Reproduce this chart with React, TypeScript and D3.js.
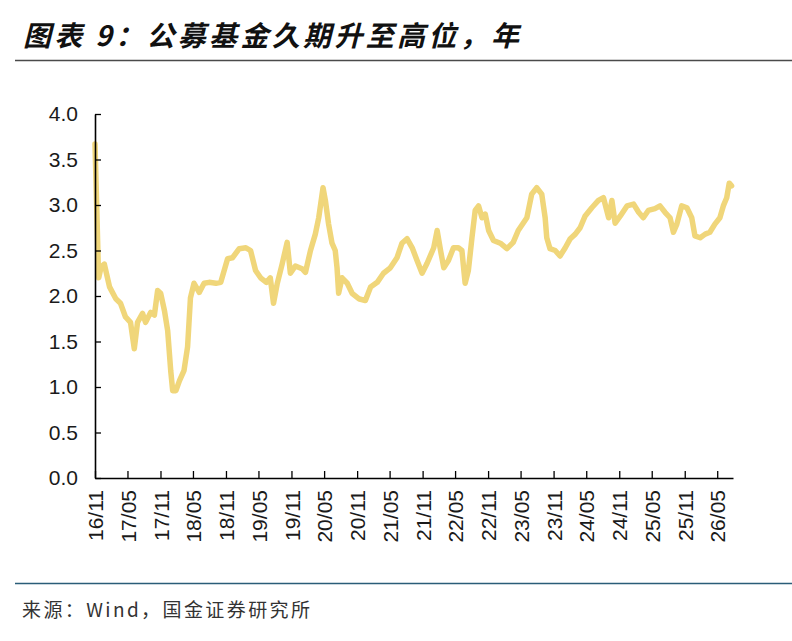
import React, { useEffect, useRef } from 'react';
import * as d3 from 'd3';

// weekly-ish readings of fund duration (years)
const dates = [
  '2016-11-01', '2016-11-11', '2016-11-19', '2016-11-22', '2016-12-05', '2016-12-23',
  '2017-01-21', '2017-02-25', '2017-03-23', '2017-04-20', '2017-05-18', '2017-06-08',
  '2017-06-26', '2017-07-24', '2017-08-10', '2017-09-07', '2017-09-28', '2017-10-16',
  '2017-11-02', '2017-11-23', '2017-12-11', '2017-12-28', '2018-01-08', '2018-01-26',
  '2018-02-15', '2018-03-12', '2018-04-01', '2018-04-17', '2018-05-07', '2018-06-05',
  '2018-07-02', '2018-07-30', '2018-09-06', '2018-10-03', '2018-11-10', '2018-12-07',
  '2019-01-14', '2019-02-20', '2019-03-18', '2019-04-15', '2019-05-13', '2019-06-14',
  '2019-07-06', '2019-07-24', '2019-08-13', '2019-09-10', '2019-10-08', '2019-10-26',
  '2019-11-23', '2019-12-30', '2020-01-18', '2020-02-15', '2020-03-13', '2020-04-01',
  '2020-04-25', '2020-05-08', '2020-05-26', '2020-06-14', '2020-07-02', '2020-07-12',
  '2020-07-21', '2020-08-09', '2020-09-07', '2020-10-04', '2020-11-10', '2020-12-17',
  '2021-01-15', '2021-02-21', '2021-03-28', '2021-05-05', '2021-06-11', '2021-07-09',
  '2021-08-06', '2021-09-04', '2021-10-01', '2021-10-29', '2021-11-26', '2022-01-02',
  '2022-01-21', '2022-02-09', '2022-02-27', '2022-03-25', '2022-04-22', '2022-05-19',
  '2022-06-08', '2022-06-26', '2022-07-14', '2022-08-03', '2022-08-21', '2022-09-09',
  '2022-09-28', '2022-10-16', '2022-11-04', '2022-12-01', '2023-01-08', '2023-02-14',
  '2023-03-21', '2023-04-18', '2023-06-05', '2023-07-02', '2023-07-30', '2023-08-27',
  '2023-09-15', '2023-09-24', '2023-10-12', '2023-11-10', '2023-12-07', '2024-01-05',
  '2024-02-02', '2024-03-01', '2024-03-28', '2024-04-25', '2024-06-01', '2024-07-08',
  '2024-08-05', '2024-09-03', '2024-09-21', '2024-10-09', '2024-11-07', '2024-12-14',
  '2025-01-20', '2025-02-17', '2025-03-15', '2025-04-12', '2025-05-19', '2025-06-16',
  '2025-07-14', '2025-08-11', '2025-08-30', '2025-09-18', '2025-10-15', '2025-11-13',
  '2025-12-10', '2025-12-28', '2026-01-26', '2026-02-23', '2026-03-21', '2026-04-18',
  '2026-05-16', '2026-06-04', '2026-06-23', '2026-07-07', '2026-07-20'
];

const duration = [
  3.67, 2.95, 2.35, 2.2, 2.32, 2.35,
  2.1, 1.97, 1.92, 1.77, 1.71, 1.42,
  1.71, 1.81, 1.71, 1.82, 1.79, 2.06,
  2.03, 1.84, 1.62, 1.18, 0.96, 0.96,
  1.07, 1.18, 1.44, 1.98, 2.14, 2.04,
  2.14, 2.15, 2.14, 2.15, 2.41, 2.42,
  2.52, 2.53, 2.5, 2.28, 2.2, 2.15,
  2.2, 1.92, 2.13, 2.35, 2.59, 2.25,
  2.33, 2.3, 2.26, 2.5, 2.68, 2.86,
  3.19, 3.05, 2.79, 2.58, 2.5, 2.31,
  2.03, 2.2, 2.14, 2.03, 1.97, 1.95,
  2.1, 2.15, 2.25, 2.31, 2.42, 2.58,
  2.63, 2.53, 2.39, 2.25, 2.36, 2.53,
  2.72, 2.5, 2.31, 2.39, 2.53, 2.53,
  2.5, 2.14, 2.28, 2.64, 2.94, 2.99,
  2.86, 2.9, 2.72, 2.61, 2.58, 2.52,
  2.59, 2.72, 2.86, 3.12, 3.19, 3.12,
  2.86, 2.64, 2.52, 2.5, 2.44, 2.53,
  2.63, 2.68, 2.75, 2.88, 2.97, 3.05,
  3.08, 2.86, 3.05, 2.8, 2.88, 2.99,
  3.01, 2.92, 2.86, 2.94, 2.96, 2.99,
  2.92, 2.86, 2.7, 2.79, 2.99, 2.97,
  2.86, 2.66, 2.64, 2.68, 2.7, 2.79,
  2.86, 2.99, 3.08, 3.24, 3.21
];

const xTickLabels = [
  '16/11', '17/05', '17/11', '18/05', '18/11', '19/05', '19/11', '20/05', '20/11', '21/05',
  '21/11', '22/05', '22/11', '23/05', '23/11', '24/05', '24/11', '25/05', '25/11', '26/05'
];
const yTicks = [0, 0.5, 1, 1.5, 2, 2.5, 3, 3.5, 4];

const title = '图表 9：公募基金久期升至高位，年';
const source = '来源：Wind，国金证券研究所';

const width = 792;
const height = 641;

const App: React.FC = () => {
  const svgRef = useRef<SVGSVGElement>(null);

  useEffect(() => {
    if (!svgRef.current) return;
    const svg = d3.select(svgRef.current);
    svg.selectAll('*').remove();

    const margin = { top: 114, right: 59, bottom: 163, left: 95 };
    const innerWidth = width - margin.left - margin.right;
    const innerHeight = height - margin.top - margin.bottom;

    const parseDay = d3.timeParse('%Y-%m-%d');
    const parseTick = d3.timeParse('%y/%m');
    const points = dates.map((d, i) => ({ date: parseDay(d) as Date, value: duration[i] }));
    const tickDates = xTickLabels.map(t => parseTick(t) as Date);

    const xScale = d3.scaleTime()
      .domain([tickDates[0], parseDay('2026-07-28') as Date])
      .range([0, innerWidth]);

    const yScale = d3.scaleLinear()
      .domain([0, 4])
      .range([innerHeight, 0]);

    // title and rules
    svg.append('text')
      .attr('x', 23)
      .attr('y', 46)
      .attr('font-family', '"Noto Sans CJK SC"')
      .attr('font-size', 28)
      .attr('font-weight', 'bold')
      .attr('font-style', 'italic')
      .attr('fill', '#111')
      .attr('textLength', 496)
      .attr('lengthAdjust', 'spacing')
      .text(title);

    svg.append('line')
      .attr('x1', 15).attr('x2', width)
      .attr('y1', 60.5).attr('y2', 60.5)
      .attr('stroke', '#4a4a4a')
      .attr('stroke-width', 1.3);

    svg.append('line')
      .attr('x1', 15).attr('x2', width)
      .attr('y1', 583.5).attr('y2', 583.5)
      .attr('stroke', '#2a5d78')
      .attr('stroke-width', 1.3);

    svg.append('text')
      .attr('x', 22)
      .attr('y', 617)
      .attr('font-family', '"Noto Sans CJK SC"')
      .attr('font-size', 19)
      .attr('fill', '#333')
      .attr('textLength', 288)
      .attr('lengthAdjust', 'spacing')
      .text(source);

    const g = svg.append('g')
      .attr('transform', `translate(${margin.left},${margin.top})`);

    // series
    const line = d3.line<{ date: Date; value: number }>()
      .x(d => xScale(d.date))
      .y(d => yScale(d.value));

    g.append('path')
      .datum(points)
      .attr('fill', 'none')
      .attr('stroke', '#F0D67A')
      .attr('stroke-width', 5.5)
      .attr('stroke-linejoin', 'round')
      .attr('stroke-linecap', 'round')
      .attr('d', line);

    // axes
    const yAxis = g.append('g')
      .call(d3.axisLeft(yScale)
        .tickValues(yTicks)
        .tickFormat(d3.format('.1f'))
        .tickSizeInner(-6)
        .tickSizeOuter(0)
        .tickPadding(17)
      );

    const xAxis = g.append('g')
      .attr('transform', `translate(0,${innerHeight})`)
      .call(d3.axisBottom(xScale)
        .tickValues(tickDates)
        .tickFormat((d, i) => xTickLabels[i])
        .tickSizeInner(-7)
        .tickSizeOuter(0)
      );

    xAxis.selectAll('.tick text')
      .attr('transform', 'rotate(-90)')
      .attr('text-anchor', 'end')
      .attr('x', -12)
      .attr('y', 0)
      .attr('dy', '0.36em');

    [yAxis, xAxis].forEach(axis => {
      axis.select('.domain').attr('stroke', '#000').attr('stroke-width', 1.6);
      axis.selectAll('.tick line').attr('stroke', '#000').attr('stroke-width', 1.3);
      axis.selectAll('.tick text')
        .attr('fill', '#1a1a1a')
        .attr('font-size', 21)
        .attr('font-family', '"Liberation Sans", Arial, sans-serif');
    });
  }, []);

  return (
    <svg
      ref={svgRef}
      width={width}
      height={height}
      style={{ position: 'absolute', left: 0, top: 0, background: '#fff' }}
    />
  );
};

export default App;
